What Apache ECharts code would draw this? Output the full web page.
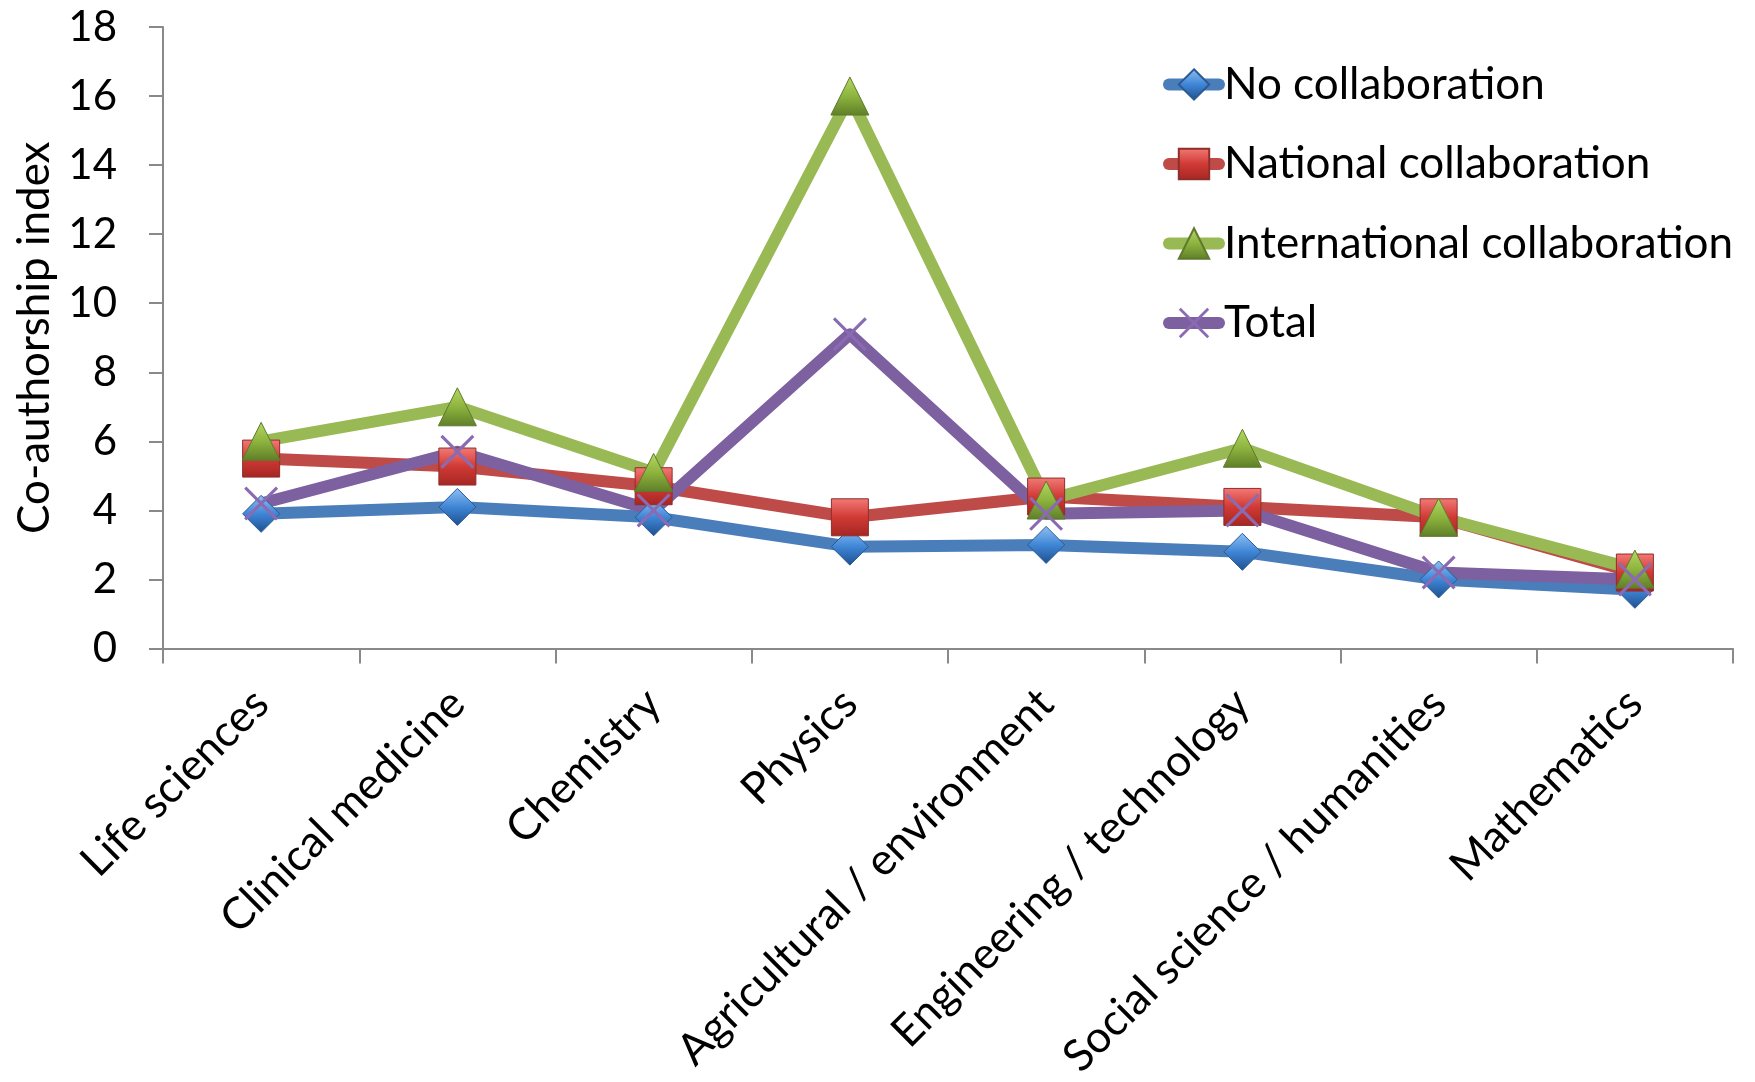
<!DOCTYPE html>
<html>
<head>
<meta charset="utf-8">
<script src="https://cdn.jsdelivr.net/npm/echarts@6/dist/echarts.min.js"></script>
<style>
html,body{margin:0;padding:0;background:#fff;}
#chart{width:1755px;height:1082px;}
</style>
</head>
<body>
<div id="chart"></div>
<script>
const categories = ["Life sciences","Clinical medicine","Chemistry","Physics","Agricultural / environment","Engineering / technology","Social science / humanities","Mathematics"];
const noCollaboration = [3.9, 4.1, 3.8, 2.95, 3.0, 2.8, 2.0, 1.7];
const nationalCollaboration = [5.5, 5.27, 4.7, 3.8, 4.4, 4.1, 3.8, 2.2];
const internationalCollaboration = [6.0, 7.0, 5.1, 16.0, 4.3, 5.8, 3.8, 2.3];
const total = [4.2, 5.7, 4.0, 9.1, 3.9, 4.0, 2.2, 2.0];
const yTicks = { min: 0, max: 18, interval: 2 };
const yAxisTitle = "Co-authorship index";

const FONT = "Lato";
function grad(top, mid, bottom) {
  return { type: 'linear', x: 0, y: 0, x2: 0, y2: 1,
    colorStops: [{offset: 0, color: top}, {offset: 0.5, color: mid}, {offset: 1, color: bottom}] };
}
const xPath = "path://M0,1.3 L1.3,0 L20,18.7 L18.7,20 Z M18.7,0 L20,1.3 L1.3,20 L0,18.7 Z";

const chart = echarts.init(document.getElementById('chart'), null, {renderer: 'canvas'});
chart.setOption({
  animation: false,
  backgroundColor: '#ffffff',
  grid: { left: 163, right: 22, top: 27, bottom: 433.5, containLabel: false },
  legend: {
    orient: 'vertical',
    left: 1163,
    top: 62.5,
    padding: 0,
    itemWidth: 50,
    itemHeight: 38,
    itemGap: 35.5,
    textStyle: { fontFamily: FONT, fontSize: 44, color: '#000', lineHeight: 44 },
    lineStyle: { width: 12, cap: 'round' },
    data: ['No collaboration', 'National collaboration', 'International collaboration', 'Total']
  },
  xAxis: {
    type: 'category',
    data: categories,
    boundaryGap: true,
    axisLine: { lineStyle: { color: '#898989', width: 2 } },
    axisTick: { show: true, length: 15, lineStyle: { color: '#898989', width: 2 }, alignWithLabel: false },
    axisLabel: { rotate: 45, margin: 48, interval: 0, fontFamily: FONT, fontSize: 44, color: '#000' },
    splitLine: { show: false }
  },
  yAxis: {
    type: 'value',
    min: yTicks.min, max: yTicks.max, interval: yTicks.interval,
    name: yAxisTitle,
    nameLocation: 'middle',
    nameRotate: 90,
    nameGap: 106,
    nameTextStyle: { fontFamily: FONT, fontSize: 44, color: '#000' },
    axisLine: { show: true, lineStyle: { color: '#898989', width: 2 } },
    axisTick: { show: true, length: 14, lineStyle: { color: '#898989', width: 2 } },
    axisLabel: { margin: 46, fontFamily: FONT, fontSize: 42, color: '#000' },
    splitLine: { show: false }
  },
  series: [
    {
      name: 'No collaboration', type: 'line', data: noCollaboration,
      symbol: 'diamond', symbolSize: 37,
      lineStyle: { color: '#4a7ebb', width: 12, cap: 'round', join: 'round' },
      itemStyle: { color: grad('#8fc0f5', '#3f86d6', '#1f4f8e'), borderColor: '#2c5a92', borderWidth: 1 }
    },
    {
      name: 'National collaboration', type: 'line', data: nationalCollaboration,
      symbol: 'rect', symbolSize: 37,
      lineStyle: { color: '#be4b48', width: 12, cap: 'round', join: 'round' },
      itemStyle: { color: grad('#f27a76', '#d03a35', '#a52622'), borderColor: '#8f2e2b', borderWidth: 1 }
    },
    {
      name: 'International collaboration', type: 'line', data: internationalCollaboration,
      symbol: 'triangle', symbolSize: 38,
      lineStyle: { color: '#98b954', width: 12, cap: 'round', join: 'round' },
      itemStyle: { color: grad('#b4d864', '#8db43e', '#5f7e28'), borderColor: '#5f7a2c', borderWidth: 1 }
    },
    {
      name: 'Total', type: 'line', data: total,
      symbol: xPath, symbolSize: 34,
      lineStyle: { color: '#7d60a0', width: 12, cap: 'round', join: 'round' },
      itemStyle: { color: '#8a6bb3', borderWidth: 0 }
    }
  ]
});
</script>
</body>
</html>
